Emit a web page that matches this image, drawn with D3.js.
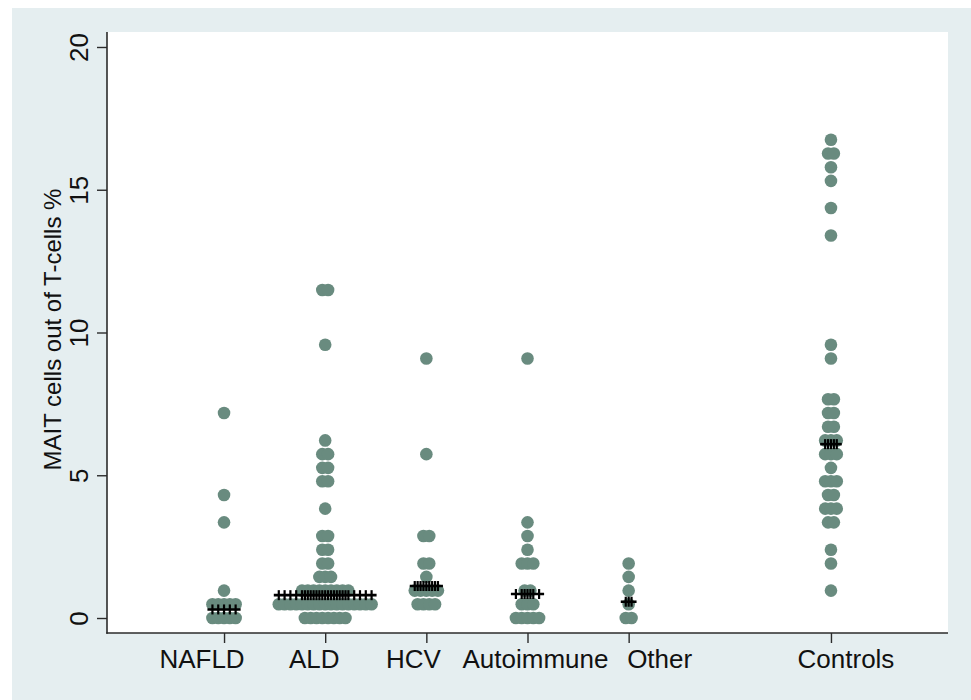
<!DOCTYPE html>
<html>
<head>
<meta charset="utf-8">
<script src="https://cdn.jsdelivr.net/npm/d3@7"></script>
<style>
  html, body { margin: 0; padding: 0; background: #ffffff; }
  svg { display: block; font-family: "Liberation Sans", Arial, Helvetica, sans-serif; }
</style>
</head>
<body>
<script>
// ---------------- data ----------------
const categories = ["NAFLD", "ALD", "HCV", "Autoimmune", "Other", "Controls"];
const groupPositions = [1, 2, 3, 4, 5, 7];

const nafld = [0, 0, 0, 0, 0, 0.48, 0.48, 0.48, 0.48, 0.48, 0.96, 3.35, 4.31, 7.18];
const ald = [0, 0, 0, 0, 0, 0, 0, 0,
  0.48, 0.48, 0.48, 0.48, 0.48, 0.48, 0.48, 0.48, 0.48, 0.48, 0.48, 0.48, 0.48, 0.48, 0.48, 0.48, 0.48,
  0.96, 0.96, 0.96, 0.96, 0.96, 0.96, 0.96, 0.96, 0.96,
  1.44, 1.44, 1.44, 1.91, 1.91, 2.39, 2.39, 2.87, 2.87, 3.83,
  4.79, 4.79, 5.26, 5.26, 5.74, 5.74, 6.22, 9.57, 11.49, 11.49];
const hcv = [0.48, 0.48, 0.48, 0.48, 0.96, 0.96, 0.96, 0.96, 0.96, 1.44, 1.91, 1.91, 2.87, 2.87, 5.74, 9.09];
const autoimmune = [0, 0, 0, 0, 0, 0.48, 0.48, 0.48, 0.96, 0.96, 1.91, 1.91, 1.91, 2.39, 2.87, 3.35, 9.09];
const other = [0, 0, 0.48, 0.96, 1.44, 1.91];
const controls = [0.96, 1.91, 2.39, 3.35, 3.35, 3.83, 3.83, 3.83, 4.31, 4.31, 4.79, 4.79, 4.79, 5.26,
  5.74, 5.74, 5.74, 6.22, 6.22, 6.22, 6.70, 6.70, 7.18, 7.18, 7.66, 7.66, 9.09, 9.57,
  13.40, 14.36, 15.31, 15.79, 16.27, 16.27, 16.75];
const medians = [0.3, 0.8, 1.12, 0.84, 0.57, 6.09];

const yTicks = [0, 5, 10, 15, 20];
const yTitle = "MAIT cells out of T-cells %";

const seriesValues = [nafld, ald, hcv, autoimmune, other, controls];

// ---------------- layout ----------------
const W = 971, H = 700;
const plot = { left: 107, right: 948, top: 32, bottom: 633 };
const dotR = 6.3, dotStep = 5.8;
const dotColor = "#698b7f";
const bgColor = "#e5eef0";
const axisColor = "#2b2b2b";
const fontSize = 26;

const svg = d3.select("body").append("svg").attr("width", W).attr("height", H);

svg.append("rect").attr("x", 12).attr("y", 8).attr("width", W - 12).attr("height", H - 8).attr("fill", bgColor);
svg.append("rect").attr("x", plot.left).attr("y", plot.top)
  .attr("width", plot.right - plot.left).attr("height", plot.bottom - plot.top).attr("fill", "#ffffff");

const x = d3.scaleLinear().domain([-0.157, 8.157]).range([plot.left, plot.right]);
const y = d3.scaleLinear().domain([-0.525, 20.525]).range([plot.bottom, plot.top]);

// ---------------- axes ----------------
const yAxis = d3.axisLeft(y).tickValues(yTicks).tickSize(10).tickPadding(0).tickFormat(d3.format("d"));
const gy = svg.append("g").attr("transform", `translate(${plot.left},0)`).call(yAxis);
gy.select(".domain").remove();
gy.selectAll(".tick line").attr("stroke", axisColor).attr("stroke-width", 1.4);
gy.selectAll(".tick text").remove();
gy.selectAll(".tick").append("text")
  .attr("transform", "translate(-19,0) rotate(-90)")
  .attr("text-anchor", "middle")
  .attr("fill", "#111")
  .style("font-size", fontSize + "px")
  .text(d => d);
svg.append("line").attr("x1", plot.left).attr("x2", plot.left)
  .attr("y1", plot.top).attr("y2", plot.bottom + 0.7)
  .attr("stroke", axisColor).attr("stroke-width", 1.6);

const xAxis = d3.axisBottom(x).tickValues(groupPositions).tickSize(10).tickFormat("");
const gx = svg.append("g").attr("transform", `translate(0,${plot.bottom})`).call(xAxis);
gx.select(".domain").remove();
gx.selectAll(".tick line").attr("stroke", axisColor).attr("stroke-width", 1.4);
svg.append("line").attr("x1", plot.left - 0.7).attr("x2", plot.right)
  .attr("y1", plot.bottom).attr("y2", plot.bottom)
  .attr("stroke", axisColor).attr("stroke-width", 1.6);

// label nudges (visual placement in the original figure)
const labelNudge = [-22, -11, -13, 8, 31, 15];
svg.append("g").selectAll("text").data(categories).join("text")
  .attr("x", (d, i) => x(groupPositions[i]) + labelNudge[i])
  .attr("y", 668)
  .attr("text-anchor", "middle")
  .attr("fill", "#111")
  .style("font-size", fontSize + "px")
  .text(d => d);

svg.append("text")
  .attr("transform", `translate(61,${(plot.top + plot.bottom) / 2 - 3}) rotate(-90)`)
  .attr("text-anchor", "middle")
  .attr("fill", "#111")
  .style("font-size", "24px")
  .text(yTitle);

// ---------------- dots ----------------
const gDots = svg.append("g");
const gMed = svg.append("g");

seriesValues.forEach((vals, gi) => {
  const rows = d3.rollups(vals, v => v.length, d => d).sort((a, b) => a[0] - b[0]);
  const pts = [];
  const offsets = new Set();
  rows.forEach(([v, n]) => {
    for (let j = 0; j < n; j++) {
      const off = (j - (n - 1) / 2) * dotStep;
      pts.push({ v, off });
      offsets.add(Math.round(off * 100) / 100);
    }
  });
  gDots.selectAll(null).data(pts).join("circle")
    .attr("cx", d => x(groupPositions[gi]) + d.off)
    .attr("cy", d => y(d.v))
    .attr("r", dotR)
    .attr("fill", dotColor);

  // median line drawn as plus markers at every dot column
  const offs = Array.from(offsets).sort((a, b) => a - b);
  const cx = x(groupPositions[gi]);
  const my = y(medians[gi]);
  const half = 5;
  gMed.append("line")
    .attr("x1", cx + offs[0] - half).attr("x2", cx + offs[offs.length - 1] + half)
    .attr("y1", my).attr("y2", my)
    .attr("stroke", "#000").attr("stroke-width", 2.6);
  gMed.selectAll(null).data(offs).join("line")
    .attr("x1", d => cx + d).attr("x2", d => cx + d)
    .attr("y1", my - half).attr("y2", my + half)
    .attr("stroke", "#000").attr("stroke-width", 2.2);
});
</script>
</body>
</html>
